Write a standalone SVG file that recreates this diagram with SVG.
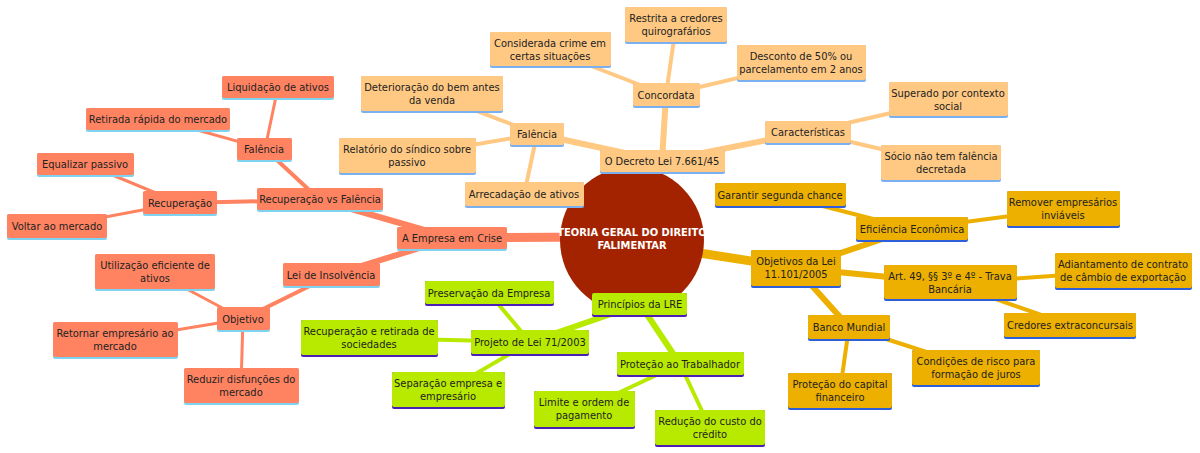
<svg xmlns="http://www.w3.org/2000/svg" width="1200" height="453" viewBox="0 0 1200 453">
<style>
text{font-family:"DejaVu Sans Condensed","DejaVu Sans",sans-serif;font-size:11px;fill:#222;text-anchor:middle}
.o rect.b{fill:#FF8361}.o rect.u{fill:#7FD3F0}
.p rect.b{fill:#FFC983}.p rect.u{fill:#7BB0F0}
.g rect.b{fill:#EDB000}.g rect.u{fill:#2F5FD8}
.v rect.b{fill:#B8EA00}.v rect.u{fill:#4B1FB3}
.co line{stroke-linecap:round}
.lo{stroke:#FF8361}.lp{stroke:#FFC983}.lg{stroke:#EDB000}.lv{stroke:#B8EA00}
</style>
<rect width="1200" height="453" fill="#fff"/>
<g id="connectors" class="co" fill="none">
<line class="lo" x1="600" y1="237" x2="452" y2="238" stroke-width="9"/>
<line class="lo" x1="452" y1="238" x2="320" y2="200" stroke-width="6"/>
<line class="lo" x1="452" y1="238" x2="332" y2="275" stroke-width="6"/>
<line class="lo" x1="320" y1="200" x2="265" y2="149" stroke-width="4"/>
<line class="lo" x1="320" y1="200" x2="180" y2="203" stroke-width="4"/>
<line class="lo" x1="265" y1="149" x2="278" y2="87" stroke-width="3"/>
<line class="lo" x1="265" y1="149" x2="158" y2="119" stroke-width="3"/>
<line class="lo" x1="180" y1="203" x2="86" y2="164" stroke-width="3"/>
<line class="lo" x1="180" y1="203" x2="57" y2="226" stroke-width="3"/>
<line class="lo" x1="332" y1="275" x2="243" y2="319" stroke-width="4"/>
<line class="lo" x1="243" y1="319" x2="155" y2="272" stroke-width="3"/>
<line class="lo" x1="243" y1="319" x2="115" y2="340" stroke-width="3"/>
<line class="lo" x1="243" y1="319" x2="241" y2="386" stroke-width="3"/>
<line class="lp" x1="640" y1="220" x2="662" y2="161" stroke-width="9"/>
<line class="lp" x1="662" y1="161" x2="537" y2="134" stroke-width="6"/>
<line class="lp" x1="662" y1="161" x2="666" y2="95" stroke-width="6"/>
<line class="lp" x1="662" y1="161" x2="808" y2="132" stroke-width="6"/>
<line class="lp" x1="537" y1="134" x2="432" y2="94" stroke-width="4"/>
<line class="lp" x1="537" y1="134" x2="407" y2="156" stroke-width="4"/>
<line class="lp" x1="537" y1="134" x2="524" y2="195" stroke-width="4"/>
<line class="lp" x1="666" y1="95" x2="550" y2="50" stroke-width="4"/>
<line class="lp" x1="666" y1="95" x2="676" y2="25" stroke-width="4"/>
<line class="lp" x1="666" y1="95" x2="801" y2="63" stroke-width="4"/>
<line class="lp" x1="808" y1="132" x2="948" y2="100" stroke-width="4"/>
<line class="lp" x1="808" y1="132" x2="941" y2="163" stroke-width="4"/>
<line class="lg" x1="680" y1="250" x2="796" y2="268" stroke-width="9"/>
<line class="lg" x1="796" y1="268" x2="912" y2="229" stroke-width="6"/>
<line class="lg" x1="796" y1="268" x2="950" y2="283" stroke-width="6"/>
<line class="lg" x1="796" y1="268" x2="849" y2="327" stroke-width="6"/>
<line class="lg" x1="912" y1="229" x2="780" y2="195" stroke-width="4"/>
<line class="lg" x1="912" y1="229" x2="1063" y2="209" stroke-width="4"/>
<line class="lg" x1="950" y1="283" x2="1123" y2="271" stroke-width="4"/>
<line class="lg" x1="950" y1="283" x2="1070" y2="325" stroke-width="4"/>
<line class="lg" x1="849" y1="327" x2="976" y2="368" stroke-width="4"/>
<line class="lg" x1="849" y1="327" x2="840" y2="391" stroke-width="4"/>
<line class="lv" x1="630" y1="290" x2="640" y2="304" stroke-width="9"/>
<line class="lv" x1="640" y1="304" x2="530" y2="342" stroke-width="6"/>
<line class="lv" x1="640" y1="304" x2="680" y2="364" stroke-width="6"/>
<line class="lv" x1="530" y1="342" x2="489" y2="293" stroke-width="4"/>
<line class="lv" x1="530" y1="342" x2="370" y2="338" stroke-width="4"/>
<line class="lv" x1="530" y1="342" x2="448" y2="390" stroke-width="4"/>
<line class="lv" x1="680" y1="364" x2="584" y2="409" stroke-width="4"/>
<line class="lv" x1="680" y1="364" x2="710" y2="428" stroke-width="4"/>
</g>
<g id="center"><ellipse cx="632" cy="240" rx="72" ry="73" fill="#A32300"/>
<text x="632" y="236" style="fill:#fff;font-weight:bold">TEORIA GERAL DO DIREITO</text>
<text x="632" y="249" style="fill:#fff;font-weight:bold">FALIMENTAR</text></g>
<!-- orange -->
<g id="n1" class="o"><rect class="u" x="397" y="227" width="110" height="24" rx="2"/><rect class="b" x="397" y="227" width="110" height="22" rx="2"/><text x="452" y="242">A Empresa em Crise</text></g>
<g id="n2" class="o"><rect class="u" x="257" y="188" width="126" height="24" rx="2"/><rect class="b" x="257" y="188" width="126" height="22" rx="2"/><text x="320" y="203">Recuperação vs Falência</text></g>
<g id="n3" class="o"><rect class="u" x="237" y="138" width="55" height="24" rx="2"/><rect class="b" x="237" y="138" width="55" height="22" rx="2"/><text x="264" y="153">Falência</text></g>
<g id="n4" class="o"><rect class="u" x="222" y="76" width="112" height="24" rx="2"/><rect class="b" x="222" y="76" width="112" height="22" rx="2"/><text x="278" y="91">Liquidação de ativos</text></g>
<g id="n5" class="o"><rect class="u" x="86" y="108" width="144" height="24" rx="2"/><rect class="b" x="86" y="108" width="144" height="22" rx="2"/><text x="158" y="123">Retirada rápida do mercado</text></g>
<g id="n6" class="o"><rect class="u" x="143" y="191" width="74" height="25" rx="2"/><rect class="b" x="143" y="191" width="74" height="23" rx="2"/><text x="180" y="207">Recuperação</text></g>
<g id="n7" class="o"><rect class="u" x="37" y="153" width="97" height="24" rx="2"/><rect class="b" x="37" y="153" width="97" height="22" rx="2"/><text x="85" y="168">Equalizar passivo</text></g>
<g id="n8" class="o"><rect class="u" x="7" y="214" width="100" height="26" rx="2"/><rect class="b" x="7" y="214" width="100" height="24" rx="2"/><text x="57" y="230">Voltar ao mercado</text></g>
<g id="n9" class="o"><rect class="u" x="283" y="263" width="97" height="25" rx="2"/><rect class="b" x="283" y="263" width="97" height="23" rx="2"/><text x="331" y="279">Lei de Insolvência</text></g>
<g id="n10" class="o"><rect class="u" x="217" y="307" width="53" height="25" rx="2"/><rect class="b" x="217" y="307" width="53" height="23" rx="2"/><text x="243" y="323">Objetivo</text></g>
<g id="n11" class="o"><rect class="u" x="95" y="254" width="120" height="37" rx="2"/><rect class="b" x="95" y="254" width="120" height="35" rx="2"/><text x="155" y="269">Utilização eficiente de</text><text x="155" y="282">ativos</text></g>
<g id="n12" class="o"><rect class="u" x="53" y="322" width="125" height="37" rx="2"/><rect class="b" x="53" y="322" width="125" height="35" rx="2"/><text x="115" y="337">Retornar empresário ao</text><text x="115" y="350">mercado</text></g>
<g id="n13" class="o"><rect class="u" x="184" y="368" width="115" height="37" rx="2"/><rect class="b" x="184" y="368" width="115" height="35" rx="2"/><text x="241" y="383">Reduzir disfunções do</text><text x="241" y="396">mercado</text></g>
<!-- peach -->
<g id="p1" class="p"><rect class="u" x="600" y="150" width="125" height="24" rx="2"/><rect class="b" x="600" y="150" width="125" height="22" rx="2"/><text x="662" y="165">O Decreto Lei 7.661/45</text></g>
<g id="p2" class="p"><rect class="u" x="510" y="123" width="54" height="24" rx="2"/><rect class="b" x="510" y="123" width="54" height="22" rx="2"/><text x="537" y="138">Falência</text></g>
<g id="p3" class="p"><rect class="u" x="361" y="76" width="142" height="37" rx="2"/><rect class="b" x="361" y="76" width="142" height="35" rx="2"/><text x="432" y="91">Deterioração do bem antes</text><text x="432" y="104">da venda</text></g>
<g id="p4" class="p"><rect class="u" x="339" y="138" width="137" height="37" rx="2"/><rect class="b" x="339" y="138" width="137" height="35" rx="2"/><text x="407" y="153">Relatório do síndico sobre</text><text x="407" y="166">passivo</text></g>
<g id="p5" class="p"><rect class="u" x="465" y="182" width="119" height="26" rx="2"/><rect class="b" x="465" y="182" width="119" height="24" rx="2"/><text x="524" y="198">Arrecadação de ativos</text></g>
<g id="p6" class="p"><rect class="u" x="633" y="83" width="67" height="25" rx="2"/><rect class="b" x="633" y="83" width="67" height="23" rx="2"/><text x="666" y="99">Concordata</text></g>
<g id="p7" class="p"><rect class="u" x="490" y="32" width="121" height="36" rx="2"/><rect class="b" x="490" y="32" width="121" height="34" rx="2"/><text x="550" y="47">Considerada crime em</text><text x="550" y="60">certas situações</text></g>
<g id="p8" class="p"><rect class="u" x="625" y="7" width="102" height="37" rx="2"/><rect class="b" x="625" y="7" width="102" height="35" rx="2"/><text x="676" y="22">Restrita a credores</text><text x="676" y="35">quirografários</text></g>
<g id="p9" class="p"><rect class="u" x="737" y="45" width="129" height="37" rx="2"/><rect class="b" x="737" y="45" width="129" height="35" rx="2"/><text x="801" y="60">Desconto de 50% ou</text><text x="801" y="73">parcelamento em 2 anos</text></g>
<g id="p10" class="p"><rect class="u" x="765" y="121" width="86" height="24" rx="2"/><rect class="b" x="765" y="121" width="86" height="22" rx="2"/><text x="808" y="136">Características</text></g>
<g id="p11" class="p"><rect class="u" x="889" y="82" width="119" height="36" rx="2"/><rect class="b" x="889" y="82" width="119" height="34" rx="2"/><text x="948" y="97">Superado por contexto</text><text x="948" y="110">social</text></g>
<g id="p12" class="p"><rect class="u" x="881" y="145" width="120" height="37" rx="2"/><rect class="b" x="881" y="145" width="120" height="35" rx="2"/><text x="941" y="160">Sócio não tem falência</text><text x="941" y="173">decretada</text></g>
<!-- gold -->
<g id="g1" class="g"><rect class="u" x="751" y="250" width="90" height="38" rx="2"/><rect class="b" x="751" y="250" width="90" height="36" rx="2"/><text x="796" y="265">Objetivos da Lei</text><text x="796" y="278">11.101/2005</text></g>
<g id="g2" class="g"><rect class="u" x="715" y="183" width="131" height="25" rx="2"/><rect class="b" x="715" y="183" width="131" height="23" rx="2"/><text x="780" y="199">Garantir segunda chance</text></g>
<g id="g3" class="g"><rect class="u" x="856" y="217" width="112" height="25" rx="2"/><rect class="b" x="856" y="217" width="112" height="23" rx="2"/><text x="912" y="233">Eficiência Econômica</text></g>
<g id="g4" class="g"><rect class="u" x="1007" y="191" width="113" height="37" rx="2"/><rect class="b" x="1007" y="191" width="113" height="35" rx="2"/><text x="1063" y="206">Remover empresários</text><text x="1063" y="219">inviáveis</text></g>
<g id="g5" class="g"><rect class="u" x="884" y="265" width="133" height="36" rx="2"/><rect class="b" x="884" y="265" width="133" height="34" rx="2"/><text x="950" y="280">Art. 49, §§ 3º e 4º - Trava</text><text x="950" y="293">Bancária</text></g>
<g id="g6" class="g"><rect class="u" x="1055" y="253" width="137" height="37" rx="2"/><rect class="b" x="1055" y="253" width="137" height="35" rx="2"/><text x="1123" y="268">Adiantamento de contrato</text><text x="1123" y="281">de câmbio de exportação</text></g>
<g id="g7" class="g"><rect class="u" x="1004" y="313" width="132" height="26" rx="2"/><rect class="b" x="1004" y="313" width="132" height="24" rx="2"/><text x="1070" y="329">Credores extraconcursais</text></g>
<g id="g8" class="g"><rect class="u" x="808" y="315" width="82" height="26" rx="2"/><rect class="b" x="808" y="315" width="82" height="24" rx="2"/><text x="849" y="331">Banco Mundial</text></g>
<g id="g9" class="g"><rect class="u" x="912" y="350" width="128" height="37" rx="2"/><rect class="b" x="912" y="350" width="128" height="35" rx="2"/><text x="976" y="365">Condições de risco para</text><text x="976" y="378">formação de juros</text></g>
<g id="g10" class="g"><rect class="u" x="788" y="373" width="104" height="37" rx="2"/><rect class="b" x="788" y="373" width="104" height="35" rx="2"/><text x="840" y="388">Proteção do capital</text><text x="840" y="401">financeiro</text></g>
<!-- green -->
<g id="v1" class="v"><rect class="u" x="592" y="293" width="95" height="24" rx="2"/><rect class="b" x="592" y="293" width="95" height="22" rx="2"/><text x="640" y="308">Princípios da LRE</text></g>
<g id="v2" class="v"><rect class="u" x="471" y="330" width="118" height="26" rx="2"/><rect class="b" x="471" y="330" width="118" height="24" rx="2"/><text x="530" y="346">Projeto de Lei 71/2003</text></g>
<g id="v3" class="v"><rect class="u" x="425" y="281" width="129" height="25" rx="2"/><rect class="b" x="425" y="281" width="129" height="23" rx="2"/><text x="489" y="297">Preservação da Empresa</text></g>
<g id="v4" class="v"><rect class="u" x="301" y="320" width="137" height="37" rx="2"/><rect class="b" x="301" y="320" width="137" height="35" rx="2"/><text x="369" y="335">Recuperação e retirada de</text><text x="369" y="348">sociedades</text></g>
<g id="v5" class="v"><rect class="u" x="392" y="372" width="113" height="37" rx="2"/><rect class="b" x="392" y="372" width="113" height="35" rx="2"/><text x="448" y="387">Separação empresa e</text><text x="448" y="400">empresário</text></g>
<g id="v6" class="v"><rect class="u" x="617" y="352" width="127" height="25" rx="2"/><rect class="b" x="617" y="352" width="127" height="23" rx="2"/><text x="680" y="368">Proteção ao Trabalhador</text></g>
<g id="v7" class="v"><rect class="u" x="534" y="391" width="101" height="38" rx="2"/><rect class="b" x="534" y="391" width="101" height="36" rx="2"/><text x="584" y="406">Limite e ordem de</text><text x="584" y="419">pagamento</text></g>
<g id="v8" class="v"><rect class="u" x="655" y="410" width="110" height="37" rx="2"/><rect class="b" x="655" y="410" width="110" height="35" rx="2"/><text x="710" y="425">Redução do custo do</text><text x="710" y="438">crédito</text></g>
</svg>
